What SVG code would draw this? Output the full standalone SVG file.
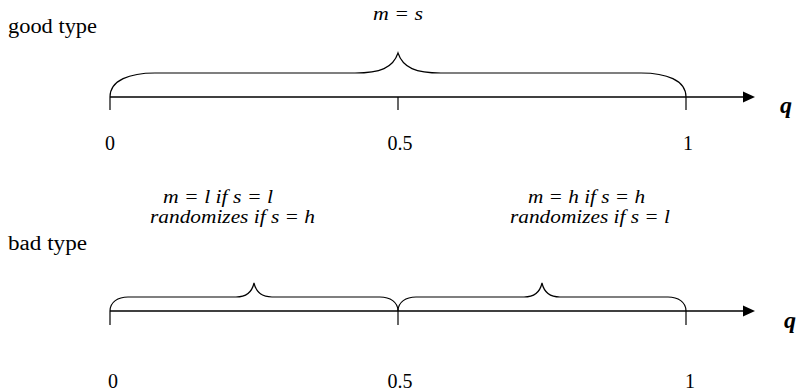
<svg xmlns="http://www.w3.org/2000/svg" width="801" height="392" viewBox="0 0 801 392">
<style>
.ax{stroke:#000;stroke-width:1.6;fill:none}
.tk{stroke:#000;stroke-width:1.2;fill:none}
.br{stroke:#000;stroke-width:1.2;fill:none}
text{font-family:'Liberation Serif','DejaVu Serif',serif;fill:#000}
.t{font-size:20px}
.i{font-size:19px;font-style:italic}
.q{font-size:24px;font-style:italic;font-weight:bold}
</style>
<rect width="801" height="392" fill="#fff"/>
<g id="good">
<text class="t" x="8" y="33" textLength="89" lengthAdjust="spacingAndGlyphs">good type</text>
<text class="i" x="398" y="20" text-anchor="middle" textLength="50" lengthAdjust="spacingAndGlyphs">m = s</text>
<path class="br" d="M110,97 C110,80 130,73 155,73 L355,73 C380,73 393,68 398,53 C403,68 416,73 441,73 L641,73 C666,73 686,80 686,97"/>
<line class="ax" x1="110" y1="97" x2="745" y2="97"/>
<polygon points="743,91.5 755,97 743,102.5" fill="#000"/>
<line class="tk" x1="110" y1="97" x2="110" y2="110"/>
<line class="tk" x1="398" y1="97" x2="398" y2="110"/>
<line class="tk" x1="686" y1="97" x2="686" y2="110"/>
<text class="q" x="780" y="113">q</text>
<text class="t" x="110" y="150" text-anchor="middle">0</text>
<text class="t" x="400" y="150" text-anchor="middle">0.5</text>
<text class="t" x="688" y="150" text-anchor="middle">1</text>
</g>
<g id="bad">
<text class="t" x="8" y="250" textLength="79" lengthAdjust="spacingAndGlyphs">bad type</text>
<text class="i" x="163" y="203" textLength="110" lengthAdjust="spacingAndGlyphs">m = l  if s = l</text>
<text class="i" x="150" y="223" textLength="165" lengthAdjust="spacingAndGlyphs">randomizes  if s = h</text>
<text class="i" x="528" y="203" textLength="117" lengthAdjust="spacingAndGlyphs">m = h  if s = h</text>
<text class="i" x="510" y="223" textLength="160" lengthAdjust="spacingAndGlyphs">randomizes  if s = l</text>
<path class="br" d="M110,311 C110,302 118,297 128,297 L236,297 C246,297 252,292 254,283 C256,292 262,297 272,297 L380,297 C390,297 398,302 398,311"/>
<path class="br" d="M398,311 C398,302 406,297 416,297 L524,297 C534,297 540,292 542,283 C544,292 550,297 560,297 L668,297 C678,297 686,302 686,311"/>
<line class="ax" x1="110" y1="311" x2="745" y2="311"/>
<polygon points="743,305.5 755,311 743,316.5" fill="#000"/>
<line class="tk" x1="110" y1="311" x2="110" y2="325"/>
<line class="tk" x1="398" y1="311" x2="398" y2="325"/>
<line class="tk" x1="686" y1="311" x2="686" y2="325"/>
<text class="q" x="784" y="328">q</text>
<text class="t" x="113" y="388" text-anchor="middle">0</text>
<text class="t" x="400" y="388" text-anchor="middle">0.5</text>
<text class="t" x="690" y="388" text-anchor="middle">1</text>
</g>
</svg>
